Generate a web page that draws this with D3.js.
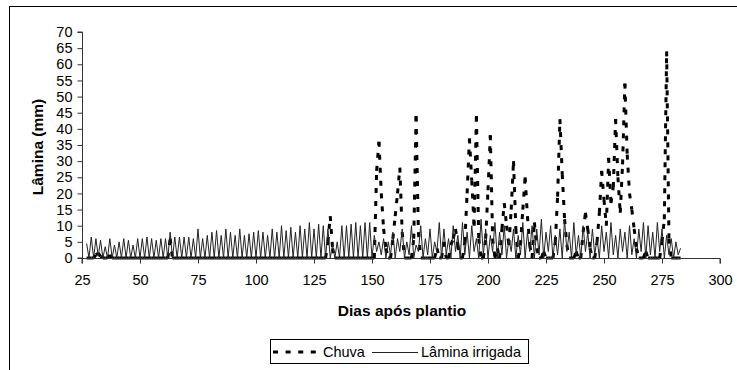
<!DOCTYPE html>
<html>
<head>
<meta charset="utf-8">
<script src="https://cdn.jsdelivr.net/npm/d3@7"></script>
<style>
  html, body { margin: 0; padding: 0; background: #fff; }
  svg { display: block; }
  text { font-family: "Liberation Sans", Arial, sans-serif; fill: #000; }
</style>
</head>
<body>
<svg id="chart" width="737" height="370"></svg>
<script>
// ---- Data ----
const firstDay = 27;
const lastDay = 283;
const xTicks = [25, 50, 75, 100, 125, 150, 175, 200, 225, 250, 275, 300];
const yTicks = [0, 5, 10, 15, 20, 25, 30, 35, 40, 45, 50, 55, 60, 65, 70];
const seriesNames = ["Chuva", "Lâmina irrigada"];

// Chuva (mm), days 27..283
const chuva = [
  0,0,0,0,1,1.5,0.5,0,0,0,
  1,0,0,0,0,0,0,0,0,0,
  0,0,0,0,0,0,0,0,0,0,
  0,0,0,0,0,0,6,0,0,0,
  0,0,0,0,0,0,0,0,0,0,
  0,0,0,0,0,0,0,0,0,0,
  0,0,0,0,0,0,0,0,0,0,
  0,0,0,0,0,0,0,0,0,0,
  0,0,0,0,0,0,0,0,0,0,
  0,0,0,0,0,0,0,0,0,0,
  0,0,0,0,5,13,3,0,0,0,
  0,0,0,0,0,0,0,0,0,0,
  0,0,0,0,0,27,36,20,9,3,
  0,0,6,13,20,28,8,0,0,0,
  0,6,44,8,0,0,0,0,0,0,
  0,3,0,0,5,0,0,4,6,9,
  4,0,0,5,20,37,24,10,44,6,
  0,0,6,21,38,6,0,3,0,9,
  17,10,4,15,30,9,0,4,15,25,
  13,4,0,11,3,0,0,2,0,0,
  0,0,5,19,43,26,12,4,0,0,
  0,2,0,0,8,14,9,3,0,0,
  5,14,27,18,10,31,17,22,43,25,
  14,29,54,32,20,15,9,3,0,0,
  0,2,0,0,0,0,0,0,5,12,
  64,6,0,0,0,0,0
];

// Lâmina irrigada (mm), days 27..283
const irrigada = [
  4.5,0,6.5,0,6,0.5,5.5,0,3.5,0,
  6,0,4,0,5,0,6,0,5.5,0,
  4,0,6,0,6,0,6.5,0,6,0,
  5.5,0,6,0,6,0,8,0,6.5,0,
  6.5,0,6.5,0,6.5,0,6,0,9,0,
  6,0,7,0,8,0,8.5,0,7,0,
  9,0,8,0,7,0,9,0,7,0,
  7.5,0,8,0,8.5,0,8,0,7,0,
  9,0,8,0,10,0,8.5,0,9.5,0,
  8,0,10,0,9,0,11,0,9,0,
  10.5,0,10,0,9,0,4,0,5,0,
  10,0,10,0,10.5,0,11,0,10,0,
  11,0,11,0,7,2,5,1,6,0,
  5,1,8,0,6,2,9,0,5,1,
  10,0,4,2,10,0,6,1,9,0,
  5,2,11,0,9,1,6,0,10,2,
  7,0,11,1,8,0,10,2,6,0,
  12,1,9,0,7,2,11,0,8,1,
  10,0,6,2,9,0,7,1,11,0,
  8,2,10,0,9,1,12,0,8,2,
  10,0,7,1,9,0,12,2,8,0,
  11,1,7,0,10,2,8,0,9,1,
  6,0,10,2,8,0,11,1,7,0,
  9,2,8,0,10,1,6,0,9,2,
  11,0,10,1,8,0,11,2,9,0,
  7,1,6,0,5,1,3
];

const dias = d3.range(firstDay, lastDay + 1);

// ---- Drawing ----
const svg = d3.select("#chart");
const W = 737, H = 370;

svg.append("rect").attr("x", 0).attr("y", 0).attr("width", W).attr("height", H).attr("fill", "#fff");
// outer chart-area border (only top and left visible in the crop)
svg.append("rect")
  .attr("x", 9.5).attr("y", 6.5).attr("width", 900).attr("height", 500)
  .attr("fill", "none").attr("stroke", "#000").attr("stroke-width", 1);

const x = d3.scaleLinear().domain([25, 300]).range([82, 720]);
const y = d3.scaleLinear().domain([0, 70]).range([258, 32]);

// Chuva: dashed, the dash pattern restarts at every data point (as in the original)
const segs = d3.pairs(chuva.map((v, i) => [dias[i], v]));
svg.append("g").selectAll("line")
  .data(segs)
  .join("line")
  .attr("x1", d => x(d[0][0])).attr("y1", d => y(d[0][1]))
  .attr("x2", d => x(d[1][0])).attr("y2", d => y(d[1][1]))
  .attr("stroke", "#000")
  .attr("stroke-width", 3)
  .attr("stroke-dasharray", "5,8");

// Lâmina irrigada: thin solid line
const lineGen = d3.line()
  .x((d, i) => x(dias[i]))
  .y(d => y(d));

svg.append("path")
  .datum(irrigada)
  .attr("fill", "none")
  .attr("stroke", "#222")
  .attr("stroke-width", 1)
  .attr("d", lineGen);

// Axes
const xAxis = d3.axisBottom(x).tickValues(xTicks).tickSize(5).tickPadding(11).tickFormat(d3.format("d"));
const yAxis = d3.axisLeft(y).tickValues(yTicks).tickSize(5).tickPadding(5).tickFormat(d3.format("d"));

const gx = svg.append("g").attr("transform", "translate(0,258.5)").call(xAxis);
const gy = svg.append("g").attr("transform", "translate(82.5,0)").call(yAxis);

[gx, gy].forEach(g => {
  g.select(".domain").attr("stroke", "#333").attr("stroke-width", 1);
  g.selectAll(".tick line").attr("stroke", "#333");
  g.selectAll(".tick text").style("font-family", "'Liberation Sans', Arial, sans-serif")
    .style("font-size", "14.5px").attr("fill", "#000");
});
gx.select(".domain").attr("d", `M${x(25)},5V0H${x(300)}V5`);
gy.select(".domain").attr("d", `M-5,${y(70)}H0V${y(0)}H-5`);

// Axis titles
svg.append("text")
  .attr("transform", "translate(43,147) rotate(-90)")
  .attr("text-anchor", "middle")
  .style("font-size", "15.5px").style("font-weight", "bold")
  .text("Lâmina (mm)");

svg.append("text")
  .attr("x", 402).attr("y", 316)
  .attr("text-anchor", "middle")
  .style("font-size", "15.5px").style("font-weight", "bold")
  .text("Dias após plantio");

// Legend
const lg = svg.append("g");
lg.append("rect").attr("x", 270.5).attr("y", 339.5).attr("width", 258).attr("height", 24)
  .attr("fill", "#fff").attr("stroke", "#000").attr("stroke-width", 1);
lg.append("line").attr("x1", 273).attr("x2", 322).attr("y1", 352).attr("y2", 352)
  .attr("stroke", "#000").attr("stroke-width", 3).attr("stroke-dasharray", "5,7.6");
lg.append("text").attr("x", 323).attr("y", 357).style("font-size", "14.5px").text(seriesNames[0]);
lg.append("line").attr("x1", 372).attr("x2", 418).attr("y1", 352.5).attr("y2", 352.5)
  .attr("stroke", "#222").attr("stroke-width", 1);
lg.append("text").attr("x", 421).attr("y", 357).style("font-size", "14.5px").text(seriesNames[1]);
</script>
</body>
</html>
